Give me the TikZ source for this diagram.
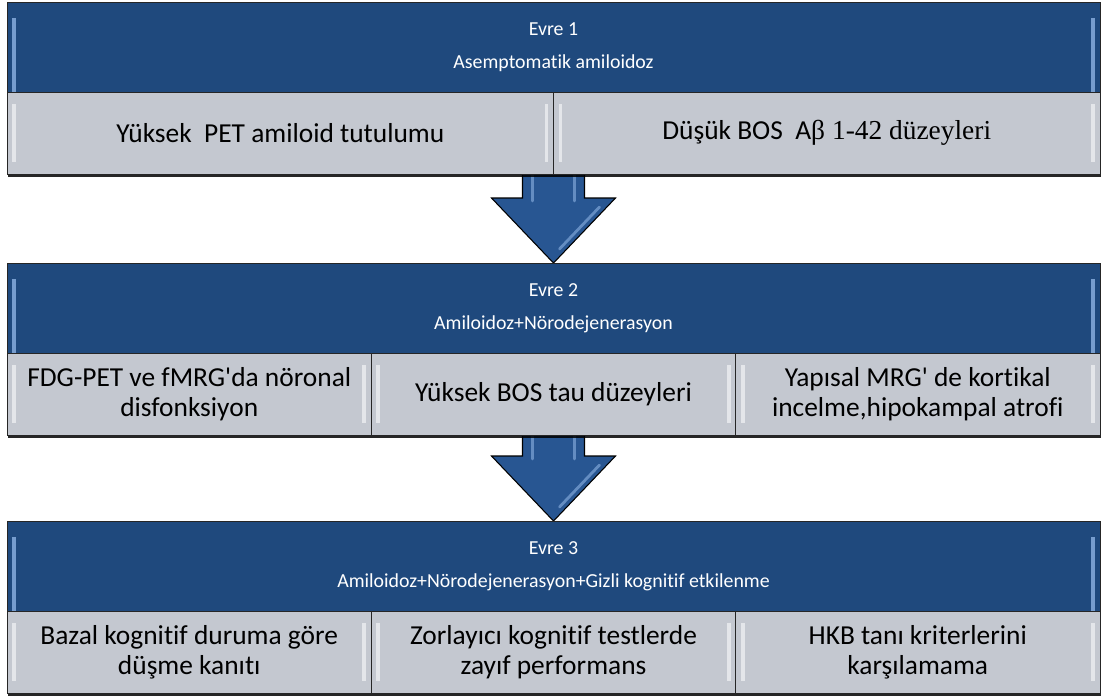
\documentclass[tikz,border=0pt]{standalone}
\usepackage{fontspec}
\setmainfont{Carlito}[Ligatures={TeXOff,NoCommon}]
\newfontfamily\timesfont{Liberation Serif}
\usetikzlibrary{calc,positioning,shadows,backgrounds}
\definecolor{hdrblue}{RGB}{31,73,125}
\definecolor{cellgrey}{RGB}{196,200,208}
\definecolor{arrowblue}{RGB}{40,86,146}
\definecolor{bevelblue}{RGB}{141,178,226}
\tikzset{
    hdr/.style={draw=black!85, fill=hdrblue, text=white, inner sep=0pt, outer sep=0pt,
        minimum width=21.86cm, minimum height=1.8cm, align=center,
        font=\fontsize{11.3}{18.7}\selectfont,
        path picture={
            \draw[bevelblue!80!hdrblue, line width=2.2pt]
                ([xshift=4pt,yshift=-9pt]path picture bounding box.north west) -- ([xshift=4pt,yshift=-1pt]path picture bounding box.south west)
                ([xshift=-4pt,yshift=-9pt]path picture bounding box.north east) -- ([xshift=-4pt,yshift=-1pt]path picture bounding box.south east);
        }},
    cell/.style={draw=black!85, fill=cellgrey, text=black, inner sep=2pt, outer sep=0pt,
        minimum height=1.64cm, align=center, font=\fontsize{15.6}{17}\selectfont,
        drop shadow={shadow xshift=0.6pt, shadow yshift=-1.6pt, fill=black, opacity=0.85},
        path picture={
            \draw[white!55!cellgrey, line width=2.2pt]
                ([xshift=4pt,yshift=-7pt]path picture bounding box.north west) -- ([xshift=4pt,yshift=7pt]path picture bounding box.south west)
                ([xshift=-4pt,yshift=-7pt]path picture bounding box.north east) -- ([xshift=-4pt,yshift=7pt]path picture bounding box.south east);
        }},
    half/.style={cell, minimum width=10.93cm},
    third/.style={cell, minimum width=7.2867cm},
    flow/.style={draw=black, line width=0.6pt, fill=arrowblue, line join=miter},
    streak/.style={bevelblue, line width=1.6pt, line cap=round, opacity=0.6}
}

\begin{document}
\begin{tikzpicture}[x=0.02cm, y=-0.02cm]

    \useasboundingbox (0,0) rectangle (1102,697);

    % Evre 1
    \node[hdr] (h1) at (553.5,47) {Evre 1\\Asemptomatik amiloidoz};
    \node[half, anchor=north west] (c11) at (h1.south west) {Yüksek~ PET amiloid tutulumu};
    \node[half, anchor=north west] (c12) at (c11.north east) {Düşük BOS~ A{\timesfont β 1-42 düzeyleri}};

    % Evre 2
    \node[hdr] (h2) at (553.5,308) {Evre 2\\Amiloidoz+Nörodejenerasyon};
    \node[third, anchor=north west] (c21) at (h2.south west) {FDG-PET ve fMRG'da nöronal\\disfonksiyon};
    \node[third, anchor=north west] (c22) at (c21.north east) {Yüksek BOS tau düzeyleri};
    \node[third, anchor=north west] (c23) at (c22.north east) {Yapısal MRG' de kortikal\\incelme,hipokampal atrofi};

    % Evre 3
    \node[hdr] (h3) at (553.5,566) {Evre 3\\Amiloidoz+Nörodejenerasyon+Gizli kognitif etkilenme};
    \node[third, anchor=north west] (c31) at (h3.south west) {Bazal kognitif duruma göre\\düşme kanıtı};
    \node[third, anchor=north west] (c32) at (c31.north east) {Zorlayıcı kognitif testlerde\\zayıf performans};
    \node[third, anchor=north west] (c33) at (c32.north east) {HKB tanı kriterlerini\\karşılamama};

    % Arrows
    \begin{scope}[on background layer]
    \foreach \s in {h2,h3}{
        \draw[flow] ($(\s.north)+(-31,-100)$) -- ($(\s.north)+(-31,-65)$) -- ($(\s.north)+(-62,-65)$)
            -- (\s.north) -- ($(\s.north)+(62,-65)$) -- ($(\s.north)+(31,-65)$) -- ($(\s.north)+(31,-100)$) -- cycle;
        \draw[streak] ($(\s.north)+(-21,-92)$) -- ($(\s.north)+(-21,-62)$);
        \draw[streak] ($(\s.north)+(21,-92)$) -- ($(\s.north)+(21,-62)$);
        \draw[streak] ($(\s.north)+(46,-56)$) -- ($(\s.north)+(6,-14)$);
    }
    \end{scope}

\end{tikzpicture}
\end{document}
